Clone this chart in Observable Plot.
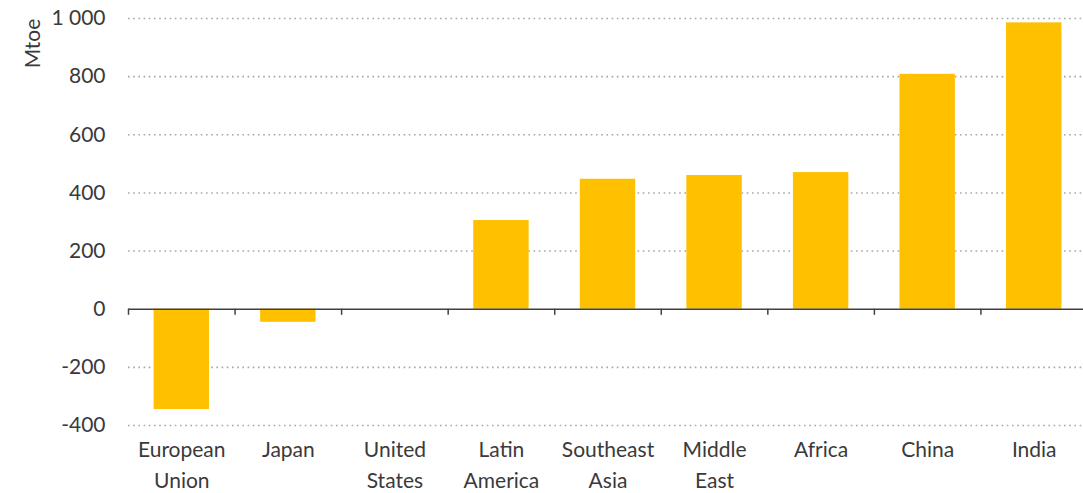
<!DOCTYPE html>
<html><head><meta charset="utf-8">
<script src="https://cdn.jsdelivr.net/npm/d3@7"></script>
<script src="https://cdn.jsdelivr.net/npm/@observablehq/plot@0.6"></script>
<style>body{margin:0;background:#fff}</style>
</head><body><div id="chart"></div>
<script>
const categories = ["European\nUnion","Japan","United\nStates","Latin\nAmerica","Southeast\nAsia","Middle\nEast","Africa","China","India"];
const values = [-345, -45, 0, 305, 447, 460, 470, 808, 985];
const yTicks = [-400,-200,0,200,400,600,800,1000];
const yLabel = "Mtoe";

const data = categories.map((c,i)=>({cat:c, i, v: values[i]}));
const font = "Lato, 'Open Sans', sans-serif";
const textColor = "#3a3a3a";
const fmt = d => d3.format(",")(d).replace(/,/g," ").replace("\u2212","-");

const chart = Plot.plot({
  width: 1083, height: 493,
  marginLeft: 128, marginRight: -4, marginTop: 18, marginBottom: 68,
  style: {fontFamily: font, fontSize: "21px", color: textColor, background: "#fff"},
  x: {domain: [0, categories.length], axis: null},
  y: {domain: [-400, 1000], axis: null},
  marks: [
    Plot.ruleY(yTicks.filter(t=>t!==0), {stroke:"#a6a6a6", strokeWidth:1.6, strokeDasharray:"1.6,3.6"}),
    Plot.rectY(data, {x1: d=>d.i+0.24, x2: d=>d.i+0.76, y1: 0, y2: "v", fill:"#FFC000"}),
    Plot.ruleY([0], {stroke:"#404040", strokeWidth:1.5}),
    Plot.ruleX(d3.range(categories.length+1), {y1:0, y2:-21, stroke:"#404040", strokeWidth:1.5}),
    Plot.text(yTicks, {x:0, y:d=>d, text:fmt, textAnchor:"end", dx:-23, fill:textColor, fontSize:21}),
    Plot.text(data, {x:d=>d.i+0.5, y:-400, text:"cat", lineAnchor:"top", dy:10, lineHeight:1.46, fill:textColor, fontSize:21}),
    Plot.text([yLabel], {frameAnchor:"top-left", text:d=>d, rotate:-90, textAnchor:"middle", dx:-103, dy:25, fill:textColor, fontSize:21})
  ]
});
document.getElementById("chart").append(chart);
</script></body></html>
